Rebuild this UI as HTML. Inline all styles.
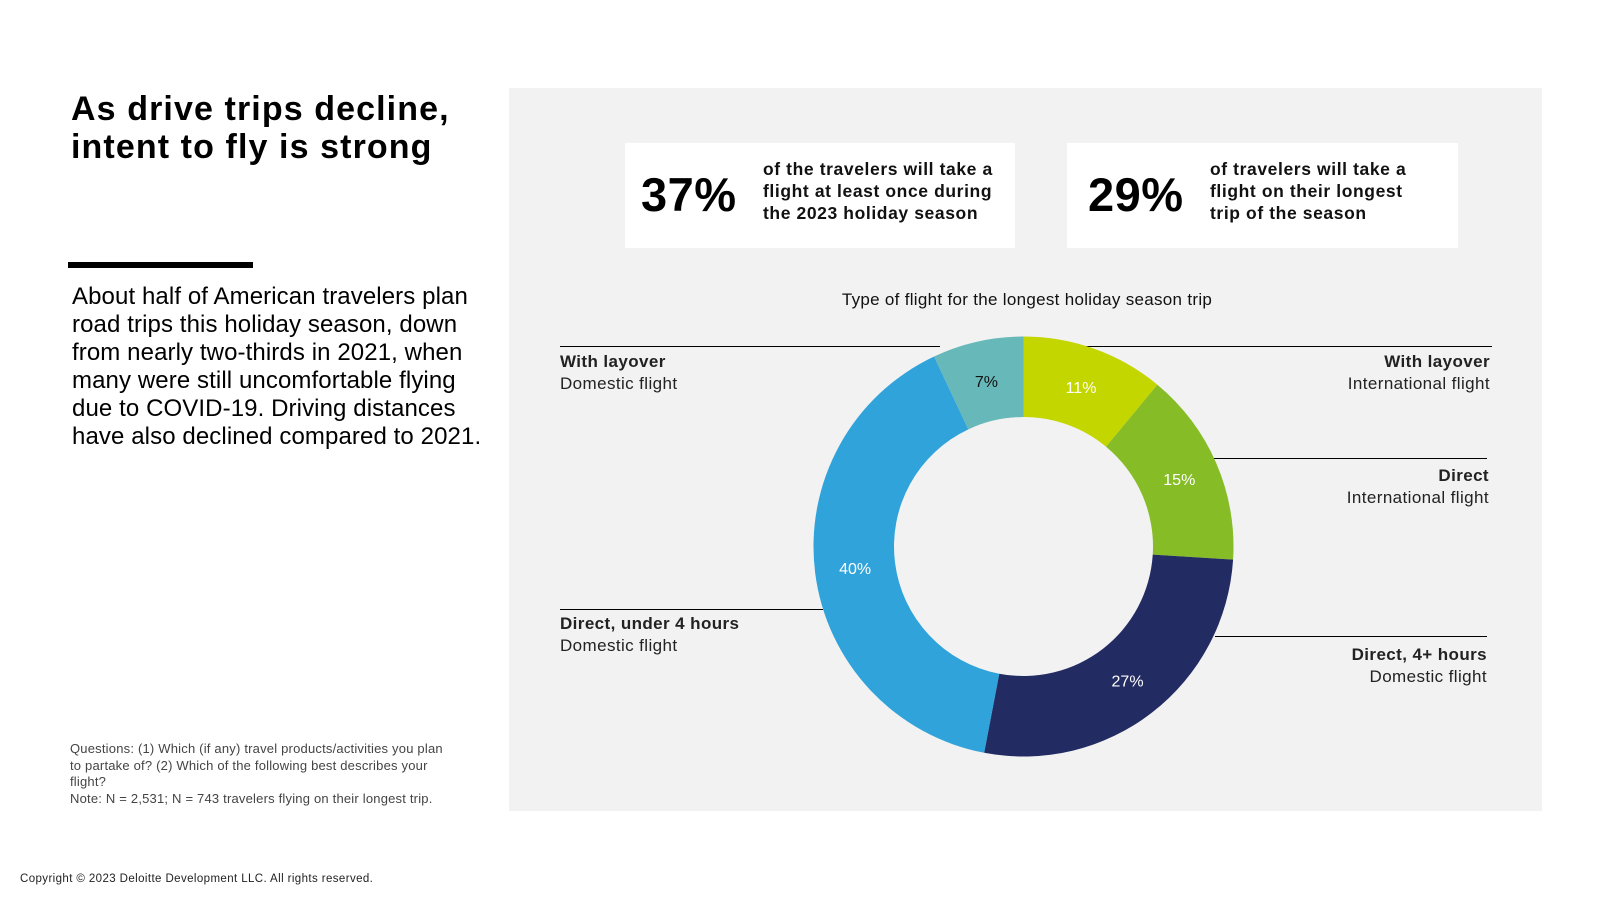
<!DOCTYPE html>
<html><head><meta charset="utf-8"><style>
*{margin:0;padding:0;box-sizing:border-box}
body{width:1600px;height:900px;background:#fff;position:relative;overflow:hidden;font-family:"Liberation Sans",sans-serif;color:#000}
.abs{position:absolute}
.lbl{font-size:17px;line-height:22px;color:#222;letter-spacing:0.4px;white-space:nowrap}
</style></head><body>
<div class="abs" style="left:71px;top:90px;font-size:34px;font-weight:bold;line-height:38px;letter-spacing:1.1px;white-space:nowrap">As drive trips decline,<br>intent to fly is strong</div>
<div class="abs" style="left:68px;top:262px;width:185px;height:6px;background:#000"></div>
<div class="abs" style="left:72px;top:283px;font-size:24px;line-height:28px;letter-spacing:0.1px;white-space:nowrap">About half of American travelers plan<br>road trips this holiday season, down<br>from nearly two-thirds in 2021, when<br>many were still uncomfortable flying<br>due to COVID-19. Driving distances<br>have also declined compared to 2021.</div>
<div class="abs" style="left:70px;top:741px;font-size:13px;line-height:16.5px;color:#444;white-space:nowrap;letter-spacing:0.2px">Questions: (1) Which (if any) travel products/activities you plan<br>to partake of? (2) Which of the following best describes your<br>flight?<br>Note: N = 2,531; N = 743 travelers flying on their longest trip.</div>
<div class="abs" style="left:20px;top:873px;font-size:11.5px;color:#222;letter-spacing:0.4px">Copyright © 2023 Deloitte Development LLC. All rights reserved.</div>

<div class="abs" style="left:509px;top:88px;width:1033px;height:723px;background:#f2f2f2"></div>

<div class="abs" style="left:625px;top:143px;width:390px;height:105px;background:#fff">
  <div class="abs" style="left:16px;top:24px;font-size:47px;font-weight:bold;letter-spacing:0.5px">37%</div>
  <div class="abs" style="left:138px;top:15px;font-size:17.5px;line-height:22px;font-weight:bold;color:#111;letter-spacing:0.6px;white-space:nowrap">of the travelers will take a<br>flight at least once during<br>the 2023 holiday season</div>
</div>
<div class="abs" style="left:1067px;top:143px;width:391px;height:105px;background:#fff">
  <div class="abs" style="left:21px;top:24px;font-size:47px;font-weight:bold;letter-spacing:0.5px">29%</div>
  <div class="abs" style="left:143px;top:15px;font-size:17.5px;line-height:22px;font-weight:bold;color:#111;letter-spacing:0.6px;white-space:nowrap">of travelers will take a<br>flight on their longest<br>trip of the season</div>
</div>

<div class="abs" style="left:727px;top:290px;width:600px;text-align:center;font-size:17px;color:#111;letter-spacing:0.3px">Type of flight for the longest holiday season trip</div>

<svg class="abs" style="left:0;top:0" width="1600" height="900">
  <g id="lines" stroke="#000" stroke-width="1">
    <line x1="560" y1="346.5" x2="940" y2="346.5"/>
    <line x1="1082" y1="346.5" x2="1492" y2="346.5"/>
    <line x1="1212" y1="458.5" x2="1487" y2="458.5"/>
    <line x1="1215" y1="636.5" x2="1487" y2="636.5"/>
    <line x1="560" y1="609.5" x2="823" y2="609.5"/>
  </g>
  <g id="slices"></g>
  <g id="vals" font-size="16" text-anchor="middle"></g>
</svg>

<div class="abs lbl" style="left:560px;top:351px"><b>With layover</b><br>Domestic flight</div>
<div class="abs lbl" style="left:560px;top:613px"><b>Direct, under 4 hours</b><br>Domestic flight</div>
<div class="abs lbl" style="right:110px;top:351px;text-align:right"><b>With layover</b><br>International flight</div>
<div class="abs lbl" style="right:111px;top:465px;text-align:right"><b>Direct</b><br>International flight</div>
<div class="abs lbl" style="right:113px;top:644px;text-align:right"><b>Direct, 4+ hours</b><br>Domestic flight</div>

<script>
const categories = ["International with layover","International direct","Domestic direct 4+ hours","Domestic direct under 4 hours","Domestic with layover"];
const values = [11, 15, 27, 40, 7];
const labels = ["11%","15%","27%","40%","7%"];
const colors = ["#c4d600","#86bc25","#232b63","#30a3db","#67b8b8"];
const textColors = ["#fff","#fff","#fff","#fff","#111"];
const cx = 1023.5, cy = 546.5, R = 210, r = 129.5;
const NS = "http://www.w3.org/2000/svg";
const total = values.reduce((a,b)=>a+b,0);
function pt(a, rad){return [cx + rad*Math.sin(a), cy - rad*Math.cos(a)];}
let acc = 0;
const gS = document.getElementById('slices'), gV = document.getElementById('vals');
values.forEach((v,i)=>{
  const a0 = acc/total*2*Math.PI, a1 = (acc+v)/total*2*Math.PI; acc += v;
  const large = (a1-a0) > Math.PI ? 1 : 0;
  const [x0,y0]=pt(a0,R),[x1,y1]=pt(a1,R),[x2,y2]=pt(a1,r),[x3,y3]=pt(a0,r);
  const p = document.createElementNS(NS,'path');
  p.setAttribute('d',`M${x0},${y0}A${R},${R} 0 ${large} 1 ${x1},${y1}L${x2},${y2}A${r},${r} 0 ${large} 0 ${x3},${y3}Z`);
  p.setAttribute('fill',colors[i]);
  
  
  gS.appendChild(p);
  const [tx,ty]=pt((a0+a1)/2,(R+r)/2);
  const t = document.createElementNS(NS,'text');
  t.setAttribute('x',tx); t.setAttribute('y',ty+6);
  t.setAttribute('fill',textColors[i]);
  t.textContent = labels[i];
  
  
  gV.appendChild(t);
});
</script>
</body></html>
